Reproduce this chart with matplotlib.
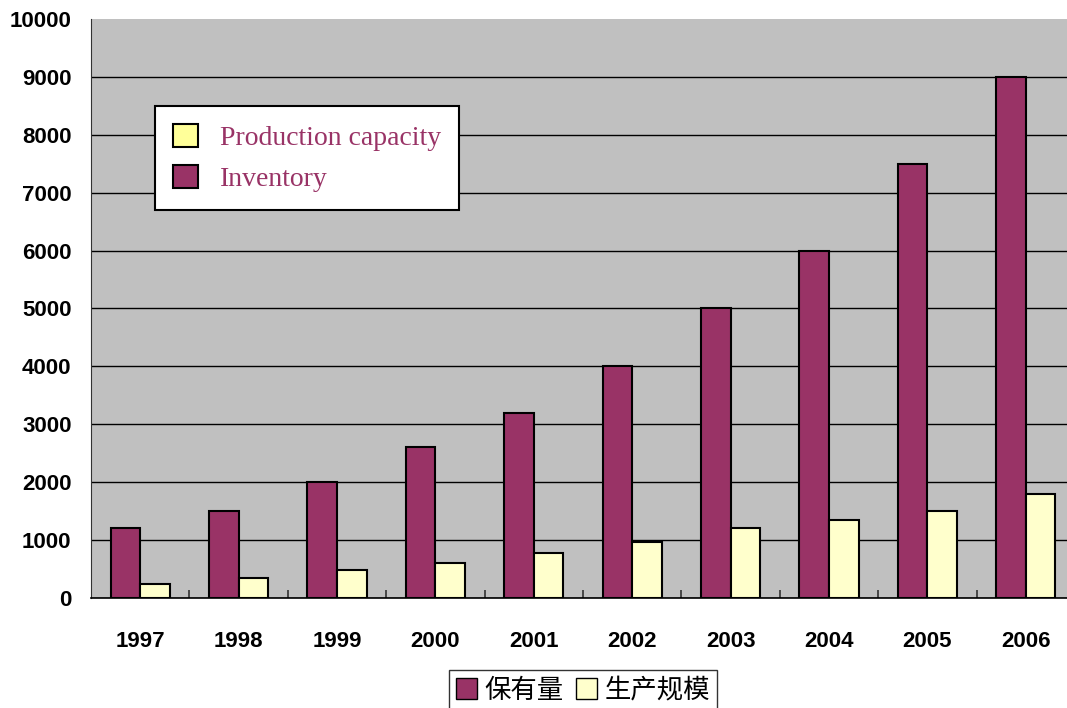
import matplotlib.pyplot as plt
import numpy as np
from matplotlib.patches import Patch

years = ["1997", "1998", "1999", "2000", "2001", "2002", "2003", "2004", "2005", "2006"]
inventory = [1200, 1500, 2000, 2600, 3200, 4000, 5000, 6000, 7500, 9000]
capacity = [250, 340, 480, 610, 780, 960, 1200, 1350, 1500, 1800]

plum = "#993366"
cream = "#FFFFCC"

fig = plt.figure(figsize=(10.67, 7.08), dpi=100)
# plot area runs a little past the right edge of the image
ax = fig.add_axes([0.0853, 0.1554, 0.9222, 0.8178])
ax.set_facecolor("#C0C0C0")

x = np.arange(len(years))
w = 0.3
ax.bar(x - w / 2, inventory, w, color=plum, edgecolor="black", linewidth=1.5, zorder=3)
ax.bar(x + w / 2, capacity, w, color=cream, edgecolor="black", linewidth=1.5, zorder=3)

ax.set_xlim(-0.5, 9.5)
ax.set_ylim(0, 10000)
ax.set_yticks(range(0, 10001, 1000))
ax.yaxis.grid(True, color="black", linewidth=1, zorder=1)
ax.get_ygridlines()[-1].set_visible(False)
ax.set_axisbelow(True)

ax.set_xticks(x)
ax.set_xticklabels(years)
ax.set_xticks(np.arange(0.5, 9.5, 1), minor=True)
ax.tick_params(axis="x", which="major", length=0, pad=24)
ax.tick_params(axis="x", which="minor", direction="in", length=6, width=1.2, color="#333333")
ax.tick_params(axis="y", length=0, pad=14)
for lab in ax.get_xticklabels() + ax.get_yticklabels():
    lab.set_fontfamily("Liberation Sans")
    lab.set_fontweight("bold")
    lab.set_fontsize(16)

for s in ["top", "right"]:
    ax.spines[s].set_visible(False)
ax.spines["left"].set_color("#333333")
ax.spines["bottom"].set_color("black")
ax.spines["bottom"].set_linewidth(1.2)

# english legend inside the plot
inner = [Patch(facecolor="#FFFF99", edgecolor="black", linewidth=1.5),
         Patch(facecolor=plum, edgecolor="black", linewidth=1.5)]
leg1 = fig.legend(inner, ["Production capacity", "Inventory"],
                  loc="upper left", bbox_to_anchor=(155 / 1067, 1 - 106 / 708),
                  prop={"family": "Liberation Serif", "size": 20},
                  frameon=True, fancybox=False, borderpad=0.65,
                  handlelength=0.9, handleheight=0.9, handletextpad=0.8,
                  labelspacing=0.5, borderaxespad=0)
leg1.get_frame().set_edgecolor("black")
leg1.get_frame().set_linewidth(1.5)
leg1.get_frame().set_alpha(1)
for t in leg1.get_texts():
    t.set_color(plum)

# chinese legend under the axis
outer = [Patch(facecolor=plum, edgecolor="black", linewidth=1),
         Patch(facecolor=cream, edgecolor="black", linewidth=1)]
leg2 = fig.legend(outer, ["保有量", "生产规模"], loc="upper left",
                  bbox_to_anchor=(449 / 1067, 1 - 670 / 708), ncol=2,
                  prop={"family": ["Noto Sans CJK SC", "DejaVu Sans"], "size": 19},
                  frameon=True, fancybox=False, borderpad=0.25,
                  handlelength=0.8, handleheight=0.8, handletextpad=0.3,
                  columnspacing=0.45, borderaxespad=0)
leg2.get_frame().set_edgecolor("black")
leg2.get_frame().set_linewidth(1)

fig.savefig("out.png", dpi=100, facecolor="white")
